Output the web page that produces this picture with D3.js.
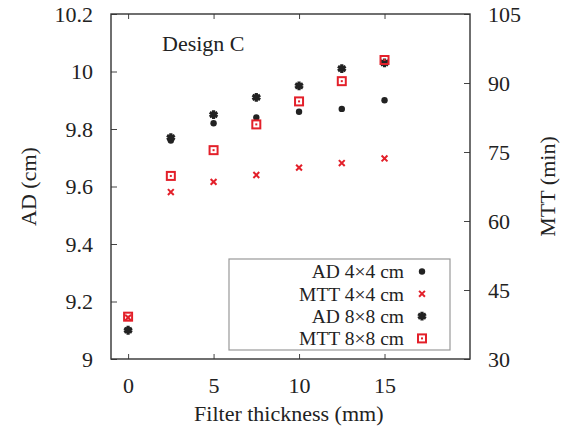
<!DOCTYPE html>
<html>
<head>
<meta charset="utf-8">
<script src="https://cdn.jsdelivr.net/npm/d3@7"></script>
<style>
  body { margin: 0; background: #fff; }
  text { font-family: "Liberation Serif", "Times New Roman", serif; fill: #222; }
</style>
</head>
<body>
<div id="chart"></div>
<script>
// Filter thickness (mm)
const thickness = [0, 2.5, 5, 7.5, 10, 12.5, 15];
// AD (cm), left axis
const ad4 = [9.10, 9.76, 9.82, 9.84, 9.86, 9.87, 9.90];
const ad8 = [9.10, 9.77, 9.85, 9.91, 9.95, 10.01, 10.03];
// MTT (min), right axis
const mtt4 = [39.0, 66.3, 68.5, 70.0, 71.6, 72.6, 73.6];
const mtt8 = [39.2, 69.8, 75.4, 81.0, 86.0, 90.4, 95.0];

const xTicks = [0, 5, 10, 15];
const adTicks = [9, 9.2, 9.4, 9.6, 9.8, 10, 10.2];
const mttTicks = [30, 45, 60, 75, 90, 105];

const RED = "#e3202a";
const INK = "#222";

const margin = {top: 14, right: 95, bottom: 71, left: 111},
  width = 565 - margin.left - margin.right,
  height = 430 - margin.top - margin.bottom;

const svg = d3.select("#chart")
  .append("svg")
    .attr("width", 565)
    .attr("height", 430)
  .append("g")
    .attr("transform", "translate(" + margin.left + "," + margin.top + ")");

const x = d3.scaleLinear().domain([-1, 20]).range([0, width]);
const yL = d3.scaleLinear().domain([9, 10.2]).range([height, 0]);
const yR = d3.scaleLinear().domain([30, 105]).range([height, 0]);

const fmt = d => String(d);

// Axes (ticks pointing inward)
const styleAxis = g => {
  g.select(".domain").remove();
  g.selectAll(".tick line").attr("stroke", "#444").attr("stroke-width", 1);
  g.selectAll(".tick text").attr("font-size", 22).attr("fill", INK)
    .style("font-family", "'Liberation Serif', serif");
};

svg.append("g")
  .attr("transform", "translate(0," + height + ")")
  .call(d3.axisBottom(x).tickValues(xTicks).tickFormat(fmt).tickSizeInner(-5).tickSizeOuter(0).tickPadding(18))
  .call(styleAxis);

svg.append("g")
  .call(d3.axisTop(x).tickValues(xTicks).tickFormat("").tickSizeInner(-5).tickSizeOuter(0))
  .call(styleAxis);

svg.append("g")
  .call(d3.axisLeft(yL).tickValues(adTicks).tickFormat(fmt).tickSizeInner(-6).tickSizeOuter(0).tickPadding(18))
  .call(styleAxis);

svg.append("g")
  .attr("transform", "translate(" + width + ",0)")
  .call(d3.axisRight(yR).tickValues(mttTicks).tickFormat(fmt).tickSizeInner(-6).tickSizeOuter(0).tickPadding(18))
  .call(styleAxis);

// Frame
svg.append("rect")
  .attr("width", width).attr("height", height)
  .attr("fill", "none").attr("stroke", "#333").attr("stroke-width", 1.4);

// Axis titles
svg.append("text")
  .attr("transform", "translate(" + (28 - margin.left) + "," + (height / 2) + ") rotate(-90)")
  .attr("text-anchor", "middle").attr("dy", "0.35em")
  .attr("font-size", 22).text("AD (cm)");

svg.append("text")
  .attr("transform", "translate(" + (547 - margin.left) + "," + (height / 2) + ") rotate(-90)")
  .attr("text-anchor", "middle").attr("dy", "0.35em")
  .attr("font-size", 22).text("MTT (min)");

svg.append("text")
  .attr("x", x(9.4)).attr("y", height + 62)
  .attr("text-anchor", "middle")
  .attr("font-size", 22).text("Filter thickness (mm)");

svg.append("text")
  .attr("x", 162 - margin.left).attr("y", 51 - margin.top)
  .attr("font-size", 22).text("Design C");

// Marker painters
const markers = {
  dot: (g) => g.append("circle").attr("r", 3.2).attr("fill", INK),
  cross: (g) => g.append("path")
    .attr("d", d3.symbol(d3.symbolX, 24)())
    .attr("stroke", RED).attr("stroke-width", 2).attr("fill", "none"),
  star: (g) => g.append("path")
    .attr("d", d3.symbol(d3.symbolAsterisk, 55)())
    .attr("stroke", INK).attr("stroke-width", 3.2).attr("fill", "none"),
  square: (g) => {
    g.append("rect").attr("x", -4).attr("y", -4).attr("width", 8).attr("height", 8)
      .attr("fill", "none").attr("stroke", RED).attr("stroke-width", 2);
    g.append("rect").attr("x", -1).attr("y", -1).attr("width", 2).attr("height", 2)
      .attr("fill", RED);
  }
};

const series = [
  {label: "AD 4\u00d74 cm", values: ad4, y: yL, marker: "dot"},
  {label: "MTT 4\u00d74 cm", values: mtt4, y: yR, marker: "cross"},
  {label: "AD 8\u00d78 cm", values: ad8, y: yL, marker: "star"},
  {label: "MTT 8\u00d78 cm", values: mtt8, y: yR, marker: "square"}
];

series.forEach(s => {
  svg.append("g").selectAll("g")
    .data(s.values)
    .enter().append("g")
      .attr("transform", (d, i) => "translate(" + x(thickness[i]) + "," + s.y(d) + ")")
      .each(function() { markers[s.marker](d3.select(this)); });
});

// Legend
const legend = svg.append("g")
  .attr("transform", "translate(" + (229 - margin.left) + "," + (259 - margin.top) + ")");
legend.append("rect")
  .attr("width", 221).attr("height", 91)
  .attr("fill", "#fff").attr("stroke", "#999").attr("stroke-width", 1.2);

series.forEach((s, i) => {
  const row = legend.append("g").attr("transform", "translate(0," + (12.5 + i * 22.3) + ")");
  row.append("text")
    .attr("x", 175).attr("dy", "0.35em")
    .attr("text-anchor", "end").attr("font-size", 19.5).text(s.label);
  markers[s.marker](row.append("g").attr("transform", "translate(193,0)"));
});
</script>
</body>
</html>
